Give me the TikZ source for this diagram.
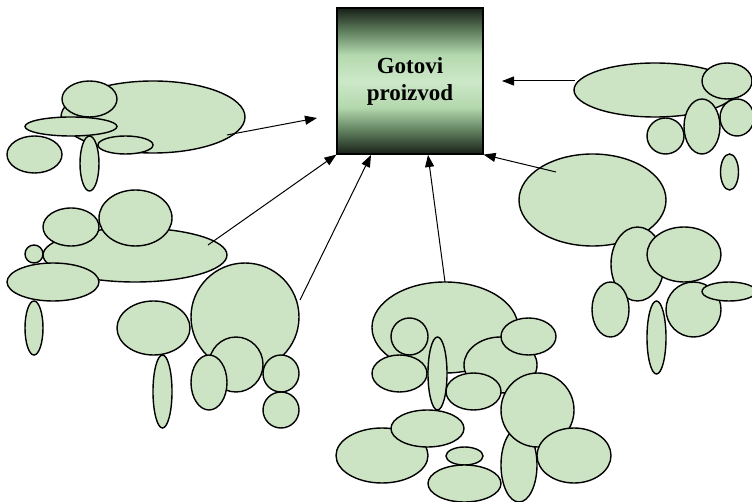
\documentclass[tikz,border=0pt]{standalone}
\usepackage{fontspec}
\setmainfont{Liberation Serif}
\usetikzlibrary{shapes.geometric,arrows.meta}

\definecolor{zelena}{RGB}{204,228,196}
\definecolor{tamna}{RGB}{24,32,24}
\definecolor{srednja}{RGB}{96,128,94}
\definecolor{blijeda}{RGB}{180,216,174}
\definecolor{svijetla}{RGB}{204,232,200}

\pgfdeclareverticalshading{kutija}{100bp}{color(0bp)=(tamna); color(25bp)=(tamna); color(33bp)=(srednja); color(41bp)=(blijeda); color(50bp)=(svijetla); color(59bp)=(blijeda); color(67bp)=(srednja); color(75bp)=(tamna); color(100bp)=(tamna)}

\tikzset{
    kap/.style 2 args={draw, ellipse, fill=zelena, line width=1.4pt, inner sep=0pt, outer sep=0pt,
        minimum width=#1pt, minimum height=#2pt},
    strelica/.style={line width=1pt, -{Triangle[length=12pt,width=9pt]}}
}

\begin{document}
\begin{tikzpicture}[x=1pt, y=-1pt]
    
    \useasboundingbox (0,0) rectangle (752,502);
    \clip (0,0) rectangle (752,502);
    
    \node[draw, line width=1.2pt, minimum width=146pt, minimum height=146pt, shading=kutija, align=center, font=\fontsize{23}{27}\selectfont\bfseries] (P) at (410,81) {Gotovi\\proizvod};
    
    % gore lijevo
    \node[kap={184}{72}] (a1) at (153,117) {};
    \node[kap={55}{36}] (a2) at (89.5,99) {};
    \node[kap={92}{19}] (a3) at (71,126.5) {};
    \node[kap={55}{37}] (a4) at (34.5,154.5) {};
    \node[kap={19}{55}] (a5) at (89.5,163.5) {};
    \node[kap={55}{18}] (a6) at (125.5,145) {};
    
    % sredina lijevo
    \node[kap={184}{54}] (b1) at (135,255) {};
    \node[kap={56}{38}] (b2) at (71,227) {};
    \node[kap={73}{56}] (b3) at (135.5,218) {};
    \node[kap={18}{18}] (b4) at (34,254) {};
    \node[kap={92}{38}] (b5) at (53,282) {};
    \node[kap={18}{54}] (b6) at (34,328) {};
    
    % dolje lijevo
    \node[kap={108}{108}] (c1) at (245,317) {};
    \node[kap={73}{54}] (c2) at (153.5,328) {};
    \node[kap={19}{73}] (c3) at (162.5,391.5) {};
    \node[kap={54}{55}] (c4) at (236,364.5) {};
    \node[kap={36}{55}] (c5) at (209,382.5) {};
    \node[kap={36}{37}] (c6) at (281,373.5) {};
    \node[kap={36}{36}] (c7) at (281,410) {};
    
    % dolje sredina
    \node[kap={146}{91}] (d1) at (445,327.5) {};
    \node[kap={73}{56}] (d4) at (500.5,365) {};
    \node[kap={37}{37}] (d2) at (409.5,336.5) {};
    \node[kap={55}{37}] (d3) at (399.5,373.5) {};
    \node[kap={19}{73}] (d5) at (437.5,373.5) {};
    \node[kap={55}{37}] (d6) at (528.5,336.5) {};
    \node[kap={55}{37}] (d7) at (473.5,391.5) {};
    \node[kap={36}{74}] (d13) at (519,465) {};
    \node[kap={73}{74}] (d8) at (537.5,410) {};
    \node[kap={74}{55}] (d14) at (574,455.5) {};
    \node[kap={92}{55}] (d10) at (382,455.5) {};
    \node[kap={73}{37}] (d9) at (427.5,428.5) {};
    \node[kap={37}{18}] (d11) at (464.5,456) {};
    \node[kap={73}{37}] (d12) at (464.5,483.5) {};
    
    % gore desno
    \node[kap={162}{54}] (e1) at (655,90) {};
    \node[kap={50}{36}] (e2) at (727,81) {};
    \node[kap={37}{36}] (e3) at (665.5,136) {};
    \node[kap={36}{55}] (e4) at (702,126.5) {};
    \node[kap={34}{37}] (e5) at (737,117.5) {};
    \node[kap={18}{36}] (e6) at (729.5,172) {};
    
    % desno
    \node[kap={147}{92}] (f1) at (592.5,200) {};
    \node[kap={53}{74}] (f2) at (637.5,264) {};
    \node[kap={74}{55}] (f3) at (684,254.5) {};
    \node[kap={37}{55}] (f4) at (610.5,309.5) {};
    \node[kap={55}{55}] (f5) at (693.5,309.5) {};
    \node[kap={54}{19}] (f6) at (729,291.5) {};
    \node[kap={19}{73}] (f7) at (656.5,337.5) {};
    
    % strelice
    \coordinate (sa) at (227,135);
    \coordinate (sb) at (208,245);
    \coordinate (sc) at (300,300);
    \coordinate (sd) at (445,282);
    \coordinate (se) at (575,81);
    \coordinate (sf) at (556,172);
    \coordinate (ka) at (317,118);
    \coordinate (ke) at (502,81);
    
    \draw[strelica] (sa) -- (ka);
    \draw[strelica] (sb) -- (P.south west);
    \draw[strelica] (sc) -- (371,155);
    \draw[strelica] (sd) -- (428,155);
    \draw[strelica] (se) -- (ke);
    \draw[strelica] (sf) -- (P.south east);
    
\end{tikzpicture}
\end{document}
